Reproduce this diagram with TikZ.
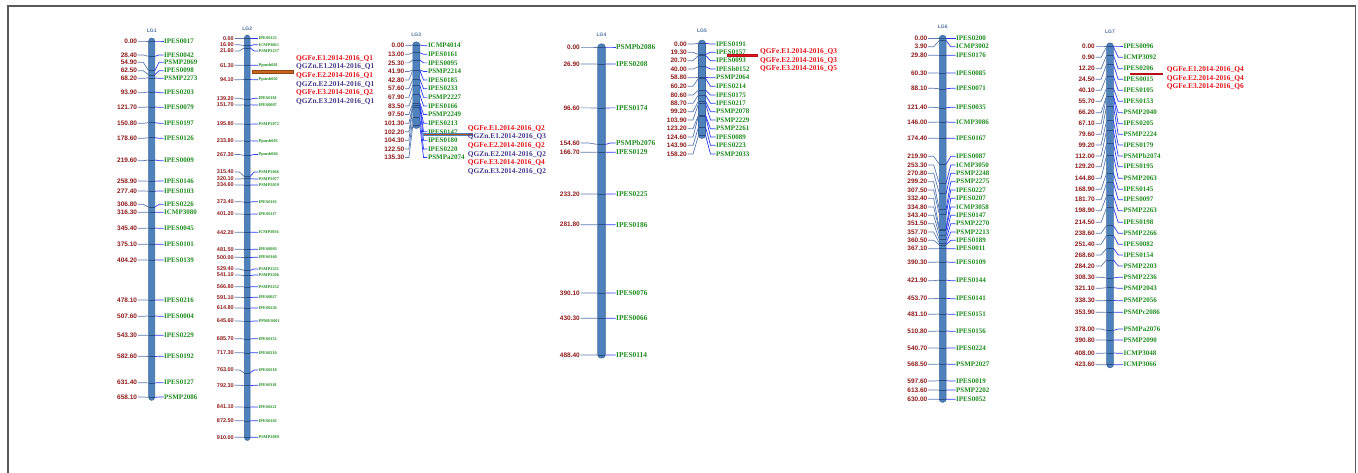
\documentclass[tikz,border=0pt]{standalone}
\usepackage{fontspec}
\setmainfont{Liberation Serif}
\newfontfamily\numfont{Liberation Sans}
\usetikzlibrary{calc}

\definecolor{barfill}{HTML}{4F81BD}
\definecolor{baredge}{HTML}{3B679C}
\definecolor{tickcol}{HTML}{2C4E7E}
\definecolor{lcol}{HTML}{5A7AB0}
\definecolor{rcol}{HTML}{2A3CF0}
\definecolor{numcol}{HTML}{8E1B1B}
\definecolor{namecol}{HTML}{1E8A1E}
\definecolor{fecol}{HTML}{E3141B}
\definecolor{zncol}{HTML}{46388A}
\definecolor{ttlcol}{HTML}{4C6FA3}
\definecolor{framecol}{HTML}{5A5A5A}
\definecolor{qtlbrown}{HTML}{C8641C}

\def\numsize{6.5}
\def\namesize{7}

\tikzset{
  chrom/.style={fill=barfill, draw=baredge, line width=0.6pt, rounded corners=3pt},
  tick/.style={draw=tickcol, line width=0.5pt},
  lline/.style={draw=lcol, line width=0.7pt},
  rline/.style={draw=rcol, line width=0.7pt},
  num/.style={font=\numfont\bfseries\fontsize{\numsize}{\numsize}\selectfont,
    text=numcol, inner sep=0.5pt, anchor=east},
  mname/.style={font=\bfseries\fontsize{\namesize}{\namesize}\selectfont,
    text=namecol, inner sep=0.5pt, anchor=west},
  ttl/.style={font=\numfont\bfseries\fontsize{5}{5}\selectfont, text=ttlcol, inner sep=0pt},
  qfe/.style={font=\bfseries\fontsize{7.4}{7.4}\selectfont, text=fecol, anchor=west, inner sep=0pt},
  qzn/.style={qfe, text=zncol},
  qbar/.style={line width=0.4pt},
}

% linkage group: name, bar x, bar width, y of 0 cM, px per cM,
% left text edge, right text edge, length in cM, title y
\newcommand\group[9]{%
  \def\gn{#1}\def\gx{#2}\def\gw{#3}\def\gy{#4}\def\gs{#5}\def\gl{#6}\def\gr{#7}%
  \pgfmathsetmacro\bl{#2-#3/2}\pgfmathsetmacro\br{#2+#3/2}%
  \pgfmathsetmacro\lb{(#6+\bl)/2}\pgfmathsetmacro\rb{(#7+\br)/2}%
  \pgfmathsetmacro\ye{#4+#8*#5+3}%
  \node[ttl] (#1-title) at (#2,#9) {#1};
  \draw[chrom] (\bl,#4-3) rectangle (\br,\ye);
}

% marker: position in cM, label y, marker name
\newcommand\mk[3]{%
  \pgfmathsetmacro\py{\gy+#1*\gs}%
  \draw[tick] (\bl,\py) -- (\br,\py);
  \node[num] (\gn-n#3) at (\gl,#2) {#1};
  \node[mname] (\gn-#3) at (\gr,#2) {#3};
  \draw[lline] (\gn-n#3.east) -- (\lb,#2) -- (\bl,\py);
  \draw[rline] (\br,\py) -- (\rb,#2) -- (\gn-#3.west);
}

\begin{document}
\begin{tikzpicture}[x=1pt,y=-1pt]
\useasboundingbox (0,0) rectangle (1358,473);
\draw[framecol, line width=1.3pt] (8,473) -- (8,6) -- (1355.5,6) -- (1355.5,473);

% ---------------- LG1
\group{LG1}{151.7}{6}{41}{0.5415}{137.8}{163.5}{658.1}{30.5}
\mk{0.00}{41}{IPES0017}
\mk{28.40}{55}{IPES0042}
\mk{54.90}{62.3}{PSMP2069}
\mk{62.50}{70.7}{IPES0098}
\mk{68.20}{78.3}{PSMP2273}
\mk{93.90}{92.7}{IPES0203}
\mk{121.70}{107.3}{IPES0079}
\mk{150.80}{123.3}{IPES0197}
\mk{178.60}{138.3}{IPES0126}
\mk{219.60}{160.7}{IPES0009}
\mk{258.90}{181}{IPES0146}
\mk{277.40}{191}{IPES0103}
\mk{306.80}{204.3}{IPES0226}
\mk{316.30}{212.3}{ICMP3080}
\mk{345.40}{228.3}{IPES0045}
\mk{375.10}{244.3}{IPES0101}
\mk{404.20}{260}{IPES0139}
\mk{478.10}{300}{IPES0216}
\mk{507.60}{316.3}{IPES0004}
\mk{543.30}{335.3}{IPES0229}
\mk{582.60}{356.3}{IPES0192}
\mk{631.40}{382.7}{IPES0127}
\mk{658.10}{397}{PSMP2086}

% ---------------- LG2
\def\numsize{5.5}\def\namesize{4.3}
\group{LG2}{247.2}{5.7}{38.3}{0.4385}{234.5}{258}{910}{29}
\mk{0.00}{38.3}{IPES0123}
\mk{16.90}{44.7}{ICMP3063}
\mk{21.60}{51}{PSMP2237}
\mk{61.30}{65.3}{Ppmsb001}
\mk{94.10}{79.7}{Ppmsb002}
\mk{139.20}{98.3}{IPES0181}
\mk{151.70}{105}{IPES0007}
\mk{195.80}{124}{PSMP2072}
\mk{233.80}{141}{Ppmsb003}
\mk{267.30}{154.5}{Ppmsb004}
\mk{315.40}{172}{PSMP2066}
\mk{320.10}{179}{PSMP2077}
\mk{334.60}{185}{PSMP2059}
\mk{373.40}{201.7}{IPES0163}
\mk{401.20}{214}{IPES0117}
\mk{442.20}{232.3}{ICMP3056}
\mk{481.50}{249.3}{IPES0003}
\mk{500.00}{257.3}{IPES0160}
\mk{529.40}{269}{PSMP2231}
\mk{541.10}{275}{PSMP2206}
\mk{566.80}{286.7}{PSMP2232}
\mk{591.10}{297.3}{IPES0027}
\mk{614.80}{308}{IPES0236}
\mk{645.60}{321}{PPMES001}
\mk{685.70}{338.7}{IPES0152}
\mk{717.30}{352.7}{IPES0210}
\mk{763.00}{370}{IPES0218}
\mk{792.30}{385.3}{IPES0118}
\mk{841.10}{407}{IPES0221}
\mk{872.50}{420.7}{IPES0102}
\mk{910.00}{437.3}{PSMP2089}
\draw[qbar, fill=qtlbrown, draw=qtlbrown!70!black] (252.3,70.3) rectangle (292.7,73.7);
\node[qfe] (q2a) at (296,58.3)  {QGFe.E1.2014-2016\_Q1};
\node[qzn] (q2b) at (296,67)    {QGZn.E1.2014-2016\_Q1};
\node[qfe] (q2c) at (296,75.7)  {QGFe.E2.2014-2016\_Q1};
\node[qzn] (q2d) at (296,84.3)  {QGZn.E2.2014-2016\_Q1};
\node[qfe] (q2e) at (296,93)    {QGFe.E3.2014-2016\_Q2};
\node[qzn] (q2f) at (296,101.7) {QGZn.E3.2014-2016\_Q1};

% ---------------- LG3
\def\numsize{6.5}\def\namesize{7}
\group{LG3}{416.3}{7}{45}{0.5935}{405}{427.3}{135.3}{34.3}
\mk{0.00}{45.7}{ICMP4014}
\mk{13.00}{54.3}{IPES0161}
\mk{25.30}{62.9}{IPES0095}
\mk{41.90}{71.5}{PSMP2214}
\mk{42.80}{80.1}{IPES0185}
\mk{57.60}{88.7}{IPES0233}
\mk{67.90}{97.4}{PSMP2227}
\mk{83.50}{106}{IPES0166}
\mk{97.50}{114.6}{PSMP2249}
\mk{101.30}{123.2}{IPES0213}
\mk{102.20}{131.8}{IPES0147}
\mk{104.30}{140.4}{IPES0180}
\mk{122.50}{149}{IPES0220}
\mk{135.30}{157.6}{PSMPa2074}
\draw[qbar, fill=qtlbrown!85!black, draw=barfill] (423.3,133.5) rectangle (471.7,135.2);
\node[qfe] (q3a) at (467.7,128.3) {QGFe.E1.2014-2016\_Q2};
\node[qzn] (q3b) at (467.7,137)   {QGZn.E1.2014-2016\_Q3};
\node[qfe] (q3c) at (467.7,145.7) {QGFe.E2.2014-2016\_Q2};
\node[qzn] (q3d) at (467.7,154.3) {QGZn.E2.2014-2016\_Q2};
\node[qfe] (q3e) at (467.7,163)   {QGFe.E3.2014-2016\_Q4};
\node[qzn] (q3f) at (467.7,171.7) {QGZn.E3.2014-2016\_Q2};

% ---------------- LG4
\def\namesize{7.4}
\group{LG4}{601.5}{7.5}{47}{0.6306}{580.5}{615.5}{488.4}{35}
\mk{0.00}{47}{PSMPb2086}
\mk{26.90}{64}{IPES0208}
\mk{96.60}{107.9}{IPES0174}
\mk{154.60}{143}{PSMPb2076}
\mk{166.70}{152.3}{IPES0129}
\mk{233.20}{194}{IPES0225}
\mk{281.80}{224.7}{IPES0186}
\mk{390.10}{293}{IPES0076}
\mk{430.30}{318.3}{IPES0066}
\mk{488.40}{355}{IPES0114}

% ---------------- LG5
\def\namesize{7}
\group{LG5}{702}{7}{43.3}{0.5816}{687.5}{715.5}{158.2}{31}
\mk{0.00}{44}{IPES0191}
\mk{19.30}{52.3}{IPES0157}
\mk{20.70}{60.7}{IPES0093}
\mk{40.00}{69}{IPESb0152}
\mk{58.80}{77.7}{PSMP2064}
\mk{60.20}{86.3}{IPES0214}
\mk{80.60}{95}{IPES0175}
\mk{88.70}{103.3}{IPES0217}
\mk{99.20}{111.7}{PSMP2078}
\mk{103.90}{120}{PSMP2229}
\mk{123.20}{128.7}{PSMP2261}
\mk{124.60}{137}{IPES0089}
\mk{143.90}{145.3}{IPES0223}
\mk{158.20}{154}{PSMP2033}
\draw[qbar, fill=fecol, draw=fecol!80!black] (726.7,54.1) rectangle (756.7,56);
\node[qfe] (q5a) at (760,51.7) {QGFe.E1.2014-2016\_Q3};
\node[qfe] (q5b) at (760,60.3) {QGFe.E2.2014-2016\_Q3};
\node[qfe] (q5c) at (760,69)   {QGFe.E3.2014-2016\_Q5};

% ---------------- LG6
\group{LG6}{942.7}{6.7}{38.3}{0.573}{928}{955.5}{630}{26.5}
\mk{0.00}{38.3}{IPES0200}
\mk{3.90}{46.7}{ICMP3002}
\mk{29.80}{55.3}{IPES0176}
\mk{60.30}{73}{IPES0085}
\mk{88.10}{88.3}{IPES0071}
\mk{121.40}{107.3}{IPES0035}
\mk{146.00}{122.3}{ICMP3086}
\mk{174.40}{138.3}{IPES0167}
\mk{219.90}{156.3}{IPES0087}
\mk{253.30}{165}{ICMP3050}
\mk{270.80}{173.3}{PSMP2248}
\mk{299.20}{181.7}{PSMP2275}
\mk{307.50}{190}{IPES0227}
\mk{332.40}{198.3}{IPES0207}
\mk{334.80}{207}{ICMP3058}
\mk{343.40}{215.3}{IPES0147}
\mk{351.50}{223.7}{PSMP2270}
\mk{357.70}{232}{PSMP2213}
\mk{360.50}{240.3}{IPES0189}
\mk{367.10}{248.7}{IPES0011}
\mk{390.30}{262.3}{IPES0109}
\mk{421.90}{280.7}{IPES0144}
\mk{453.70}{298.7}{IPES0141}
\mk{481.10}{314.3}{IPES0151}
\mk{510.80}{331.3}{IPES0156}
\mk{540.70}{348}{IPES0224}
\mk{568.50}{364.3}{PSMP2027}
\mk{597.60}{381}{IPES0019}
\mk{613.60}{390}{PSMP2202}
\mk{630.00}{399.3}{IPES0052}

% ---------------- LG7
\group{LG7}{1110}{6.7}{46}{0.7524}{1095.5}{1123}{423.6}{31.7}
\mk{0.00}{46}{IPES0096}
\mk{0.90}{57.3}{ICMP3092}
\mk{12.20}{68.7}{IPES0206}
\mk{24.50}{79.3}{IPES0015}
\mk{40.10}{90.3}{IPES0105}
\mk{55.70}{101.3}{IPES0153}
\mk{66.20}{112.7}{PSMP2040}
\mk{67.10}{123.7}{IPES0205}
\mk{79.60}{134.3}{PSMP2224}
\mk{99.20}{145}{IPES0179}
\mk{112.00}{156}{PSMPb2074}
\mk{129.20}{166.7}{IPES0195}
\mk{144.80}{178.3}{PSMP2063}
\mk{168.90}{189.3}{IPES0145}
\mk{181.70}{199.7}{IPES0097}
\mk{198.90}{210.7}{PSMP2263}
\mk{214.50}{222.3}{IPES0198}
\mk{238.60}{233.3}{PSMP2266}
\mk{251.40}{244.3}{IPES0082}
\mk{268.60}{255}{IPES0154}
\mk{284.20}{266}{PSMP2203}
\mk{308.30}{277.3}{PSMP2236}
\mk{321.10}{288.3}{PSMP2043}
\mk{338.30}{300.7}{PSMP2056}
\mk{353.90}{312.3}{PSMPc2086}
\mk{378.00}{329}{PSMPa2076}
\mk{390.80}{340}{PSMP2090}
\mk{408.00}{353.3}{ICMP3048}
\mk{423.60}{364.7}{ICMP3066}
\draw[qbar, fill=fecol, draw=fecol!80!black] (1130,72.8) rectangle (1161.7,74.7);
\node[qfe] (q7a) at (1166.7,69.3) {QGFe.E1.2014-2016\_Q4};
\node[qfe] (q7b) at (1166.7,78.3) {QGFe.E2.2014-2016\_Q4};
\node[qfe] (q7c) at (1166.7,87)   {QGFe.E3.2014-2016\_Q6};
\end{tikzpicture}
\end{document}
